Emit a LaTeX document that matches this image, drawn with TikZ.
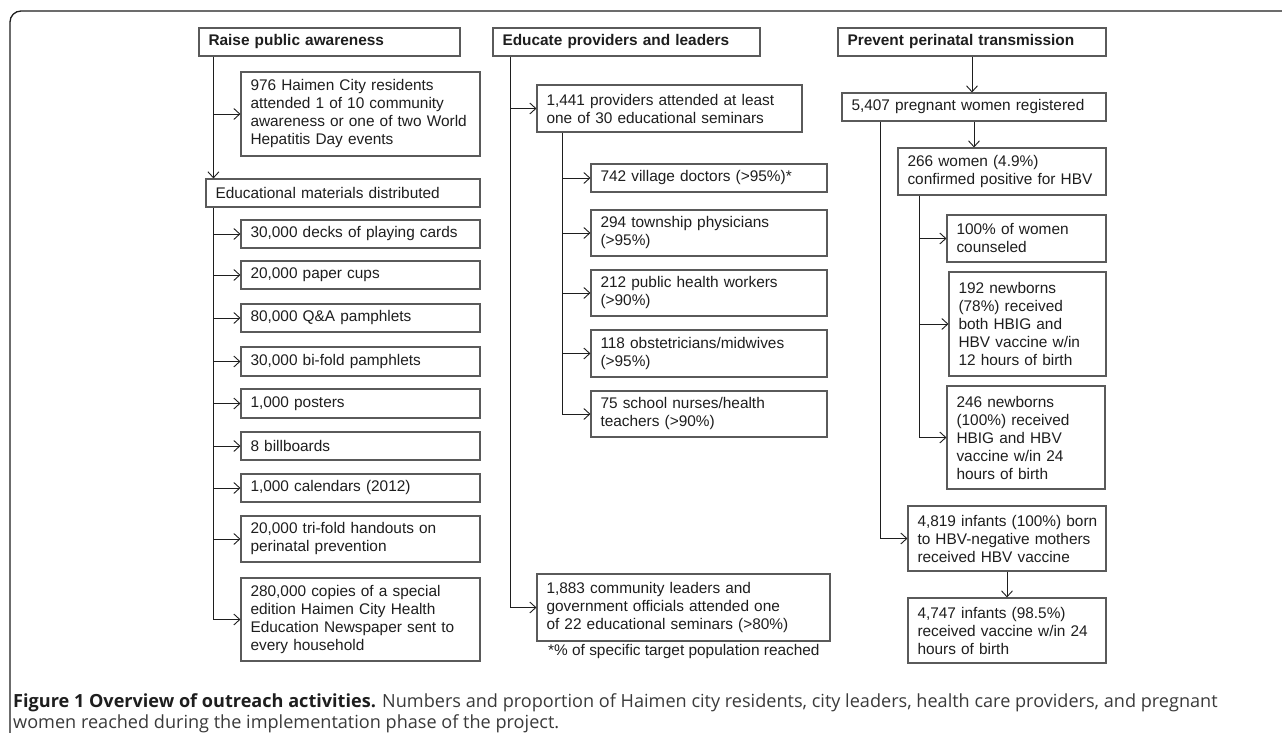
\documentclass[tikz,border=0pt]{standalone}
\usepackage{fontspec}
\setmainfont{Liberation Sans}
\newfontfamily\capfont{Open Sans}
\usepackage{tikz}
\usetikzlibrary{arrows.meta,positioning,calc}
\definecolor{boxln}{HTML}{5A5A5A}
\definecolor{txt}{HTML}{1E1E1E}
\definecolor{captxt}{HTML}{3A3A3A}
\tikzset{
	blk/.style={draw=boxln, line width=1.1pt, inner xsep=9.5pt, inner ysep=0pt,
		align=left, text=txt, font=\fontsize{15.4}{18}\selectfont},
	bx/.style n args={2}{blk, minimum width=#1pt, text width=#1pt-19pt,
		minimum height=#2pt},
	hd/.style={font=\bfseries\fontsize{15.4}{18}\selectfont},
	wire/.style={draw=txt, line width=0.9pt},
	arr/.style={wire, ->},
}

\begin{document}
\begin{tikzpicture}[x=1pt, y=-1pt, >={Straight Barb[length=6pt,width=11pt]}]
	\fill[white] (0,0) rectangle (1282,733);
	\useasboundingbox (0,0) rectangle (1282,733);
	\draw[draw=txt, line width=1.3pt, rounded corners=11pt] (1282,11) -- (10,11) -- (10,733);
	% raise public awareness
	\node[bx={261}{28}, hd] at (329.5,42) (h1) {Raise public awareness};
	\node[bx={239}{84}] at (360.5,114) (ev) {976 Haimen City residents\\attended 1 of 10 community\\awareness or one of two World\\Hepatitis Day events};
	\node[bx={274}{28}] at (343,193) (mat) {Educational materials distributed};
	\node[bx={239}{28}] at (360.5,234) (m1) {30,000 decks of playing cards};
	\node[bx={239}{28}] at (360.5,275) (m2) {20,000 paper cups};
	\node[bx={239}{28}] at (360.5,318) (m3) {80,000 Q\&A pamphlets};
	\node[bx={239}{29}] at (360.5,361.5) (m4) {30,000 bi-fold pamphlets};
	\node[bx={239}{29}] at (360.5,403.5) (m5) {1,000 posters};
	\node[bx={239}{28}] at (360.5,446) (m6) {8 billboards};
	\node[bx={239}{28}] at (360.5,488) (m7) {1,000 calendars (2012)};
	\node[bx={239}{46}] at (360.5,539) (m8) {20,000 tri-fold handouts on\\perinatal prevention};
	\node[bx={239}{83}] at (360.5,619.5) (m9) {280,000 copies of a special\\edition Haimen City Health\\Education Newspaper sent to\\every household};
	% educate providers and leaders
	\node[bx={267}{28}, hd] at (626.5,42) (h2) {Educate providers and leaders};
	\node[bx={265}{47}] at (669.5,108.5) (pr) {1,441 providers attended at least\\one of 30 educational seminars};
	\node[bx={236}{28}] at (709,178) (p1) {742 village doctors (>95\%)*};
	\node[bx={236}{46}] at (709,233) (p2) {294 township physicians\\(>95\%)};
	\node[bx={236}{46}] at (709,293) (p3) {212 public health workers\\(>90\%)};
	\node[bx={236}{47}] at (709,353.5) (p4) {118 obstetricians/midwives\\(>95\%)};
	\node[bx={236}{46}] at (709,414) (p5) {75 school nurses/health\\teachers (>90\%)};
	\node[bx={293}{67}] at (683.5,607.5) (ld) {1,883 community leaders and\\government officials attended one\\of 22 educational seminars (>80\%)};
	\node[anchor=west, inner sep=0pt, text=txt, font=\fontsize{15.4}{18}\selectfont] at (548,652) (note) {*\% of specific target population reached};
	% prevent perinatal transmission
	\node[bx={268}{28}, hd] at (972,42) (h3) {Prevent perinatal transmission};
	\node[bx={264}{28}] at (974,107) (pw) {5,407 pregnant women registered};
	\node[bx={208}{47}] at (1002,171.5) (hb) {266 women (4.9\%)\\confirmed positive for HBV};
	\node[bx={159}{47}] at (1026.5,238.5) (c1) {100\% of women\\counseled};
	\node[bx={157}{104}] at (1027.5,324) (c2) {192 newborns\\(78\%) received\\both HBIG and\\HBV vaccine w/in\\12 hours of birth};
	\node[bx={158}{103}] at (1026,437.5) (c3) {246 newborns\\(100\%) received\\HBIG and HBV\\vaccine w/in 24\\hours of birth};
	\node[bx={198}{65}] at (1007,538.5) (ng) {\mbox{4,819 infants (100\%) born}\\to HBV-negative mothers\\received HBV vaccine};
	\node[bx={198}{65}] at (1007,630.5) (vc) {4,747 infants (98.5\%)\\received vaccine w/in 24\\hours of birth};
	% caption
	\node[anchor=north west, align=left, inner sep=0pt, text=captxt, font=\capfont\fontsize{18.1}{21.5}\selectfont] at (13,693) (cap) {\textcolor{txt}{\textbf{Figure 1 Overview of outreach activities.}} Numbers and proportion of Haimen city residents, city leaders, health care providers, and pregnant\\women reached during the implementation phase of the project.};
	% connectors, column 1
	\coordinate (s1) at ($(h1.south west)+(15,0)$);
	\draw[arr] (s1) -- (s1 |- mat.north);
	\draw[arr] (s1 |- ev.west) -- (ev.west);
	\coordinate (s2) at ($(mat.south west)+(8,0)$);
	\draw[arr] (s2) |- (m9.west);
	\foreach \m in {m1,m2,m3,m4,m5,m6,m7,m8}
		\draw[arr] (s2 |- \m.west) -- (\m.west);
	% column 2
	\coordinate (s3) at ($(h2.south west)+(18,0)$);
	\draw[arr] (s3) |- (ld.west);
	\draw[arr] (s3 |- pr.west) -- (pr.west);
	\coordinate (s4) at ($(pr.south west)+(26,0)$);
	\draw[arr] (s4) |- (p5.west);
	\foreach \p in {p1,p2,p3,p4}
		\draw[arr] (s4 |- \p.west) -- (\p.west);
	% column 3
	\draw[arr] (h3.south) -- (h3.south |- pw.north);
	\draw[arr] (pw.south) -- (pw.south |- hb.north);
	\coordinate (s5) at ($(pw.south west)+(39,0)$);
	\draw[arr] (s5) |- (ng.west);
	\coordinate (s6) at ($(hb.south west)+(22,0)$);
	\draw[arr] (s6) |- (c3.west);
	\foreach \c in {c1,c2}
		\draw[arr] (s6 |- \c.west) -- (\c.west);
	\draw[arr] (ng.south) -- (vc.north);
\end{tikzpicture}
\end{document}
